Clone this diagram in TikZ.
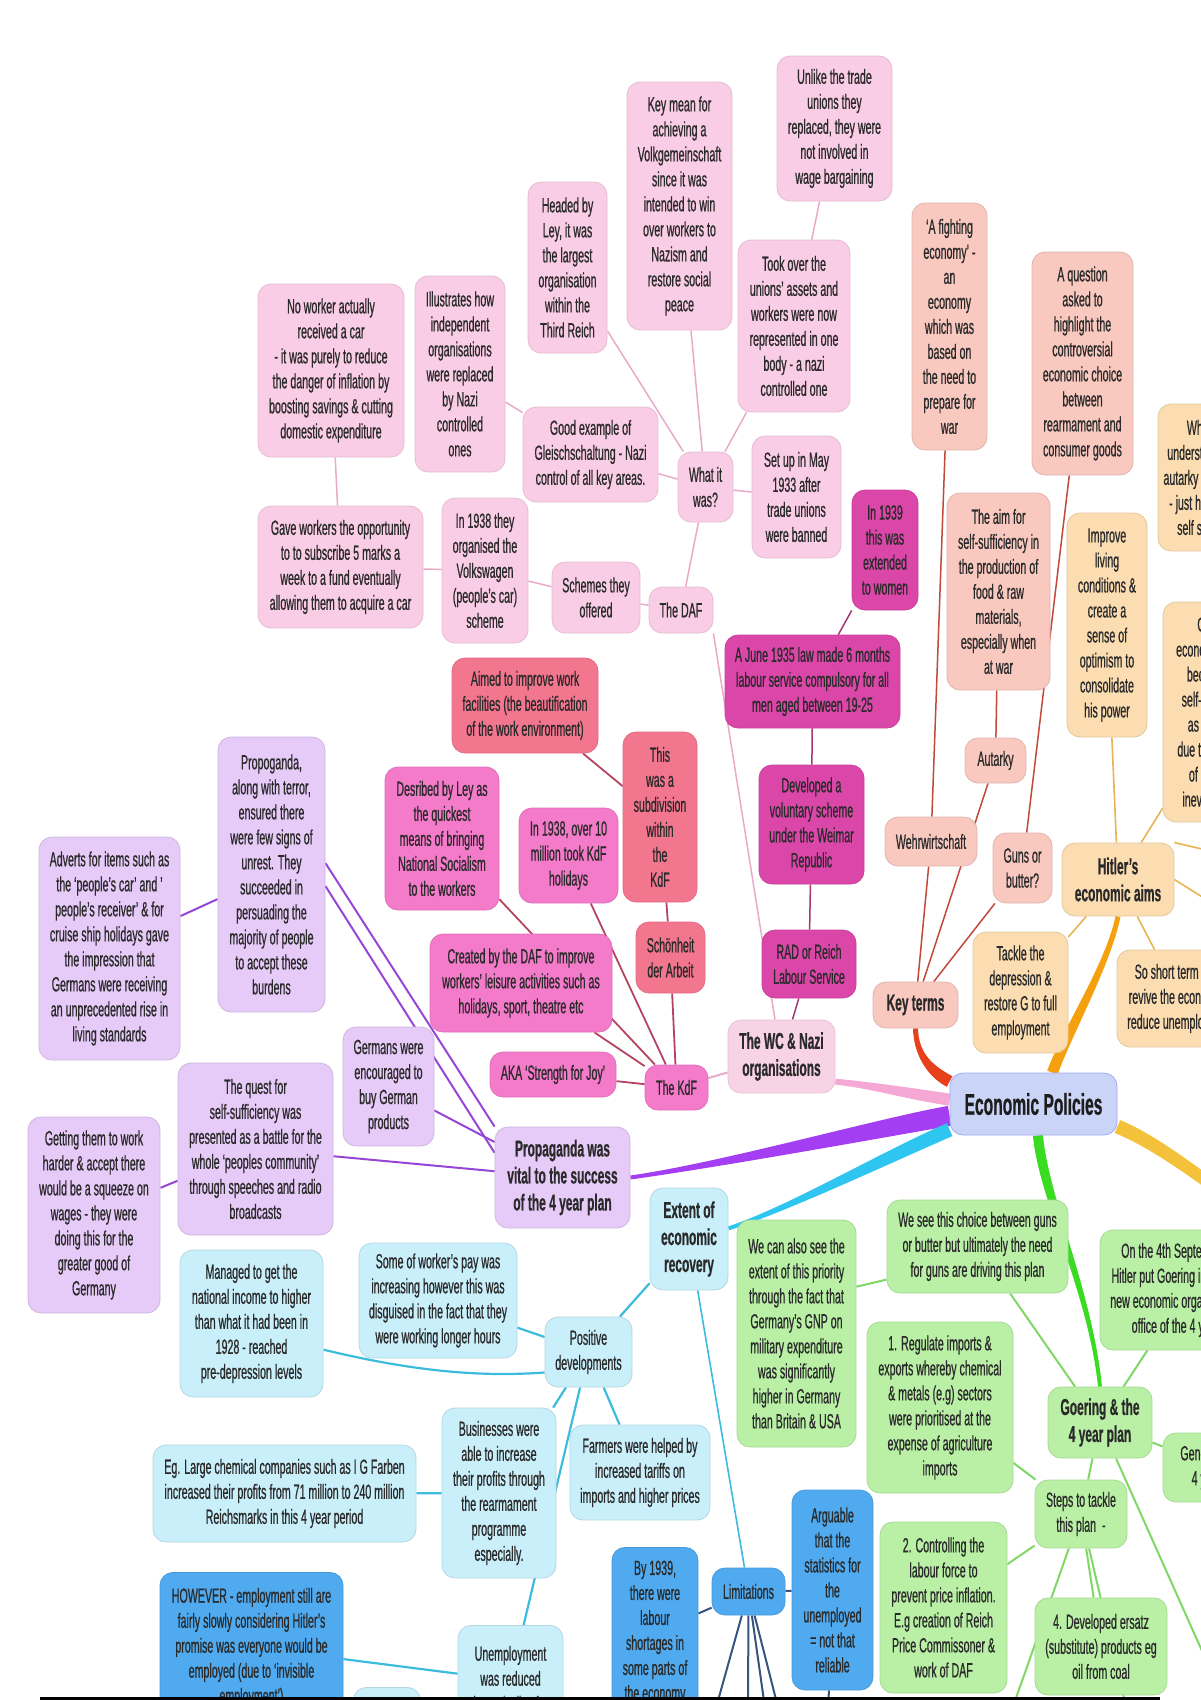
\documentclass[tikz,border=0pt]{standalone}
\usepackage{fontspec}
\setmainfont{Liberation Sans}[FakeStretch=0.52, FakeBold=0.6]
\usetikzlibrary{calc}
\definecolor{ink}{HTML}{2A2A2A}
\definecolor{dafpink}{HTML}{F9CDE5}
\definecolor{radmag}{HTML}{DB47A9}
\definecolor{kdfred}{HTML}{F3768F}
\definecolor{kdfpink}{HTML}{F47ACA}
\definecolor{wcpink}{HTML}{F8D3E6}
\definecolor{epblue}{HTML}{C9D4F6}
\definecolor{keypeach}{HTML}{F9C9C0}
\definecolor{aimorange}{HTML}{FCDDB1}
\definecolor{greenfill}{HTML}{BAF0A6}
\definecolor{purplefill}{HTML}{E6CAF8}
\definecolor{cyanfill}{HTML}{C9EFFA}
\definecolor{bluefill}{HTML}{4FAAF0}
\definecolor{dafline}{HTML}{E9A9C8}
\definecolor{radline}{HTML}{A63571}
\definecolor{kdfline}{HTML}{B4445F}
\definecolor{keyline}{HTML}{C2483A}
\definecolor{aimline}{HTML}{E6B450}
\definecolor{pline}{HTML}{9646D6}
\definecolor{cline}{HTML}{3CBCDD}
\definecolor{bline}{HTML}{35557E}
\definecolor{gline}{HTML}{7FD865}
\definecolor{brRed}{HTML}{E8401C}
\definecolor{brOrange}{HTML}{F5A00E}
\definecolor{brPink}{HTML}{F5A8D4}
\definecolor{brPurple}{HTML}{A43EF2}
\definecolor{brCyan}{HTML}{2EC6F0}
\definecolor{brGreen}{HTML}{3ADC22}
\definecolor{brYellow}{HTML}{F3C23A}
\tikzset{bubble/.style={rounded corners=13pt, align=center, inner sep=3pt, line width=0.8pt,
                        text=ink, font=\fontsize{20.5}{25}\selectfont}}
% tapered main branch: colour, start, control 1, control 2, end, half width at start, half width at end
\newcommand\branch[7]{%
  \path ($#2!#6!90:#3$) coordinate (bl0) ($#2!#6!-90:#3$) coordinate (br0)
        ($#5!#7!-90:#4$) coordinate (bl1) ($#5!#7!90:#4$) coordinate (br1);
  \fill[#1] (bl0) .. controls ($#3+(bl0)-#2$) and ($#4+(bl1)-#5$) .. (bl1)
        -- (br1) .. controls ($#4+(br1)-#5$) and ($#3+(br0)-#2$) .. (br0) -- cycle;}

\begin{document}
\begin{tikzpicture}[x=1pt, y=-1pt,
    dafbox/.style = {bubble, fill=dafpink, draw=dafpink!92!black},
    radbox/.style = {bubble, fill=radmag, draw=radmag!92!black},
    kdfredbox/.style = {bubble, fill=kdfred, draw=kdfred!92!black},
    kdfbox/.style = {bubble, fill=kdfpink, draw=kdfpink!92!black},
    wcbox/.style = {bubble, fill=wcpink, draw=wcpink!92!black},
    keybox/.style = {bubble, fill=keypeach, draw=keypeach!90!black},
    aimbox/.style = {bubble, fill=aimorange, draw=aimorange!90!black},
    greenbox/.style = {bubble, fill=greenfill, draw=greenfill!90!black},
    purplebox/.style = {bubble, fill=purplefill, draw=purplefill!90!black},
    cyanbox/.style = {bubble, fill=cyanfill, draw=cyanfill!90!black},
    bluebox/.style = {bubble, fill=bluefill, draw=bluefill!90!black},
    heading/.style = {font=\bfseries\fontsize{23}{27}\selectfont},
    dafln/.style = {draw=dafline, line width=1.5pt},
    radln/.style = {draw=radline, line width=1.5pt},
    kdfln/.style = {draw=kdfline, line width=1.8pt},
    keyln/.style = {draw=keyline, line width=1.5pt},
    aimln/.style = {draw=aimline, line width=1.6pt},
    pln/.style = {draw=pline, line width=2pt},
    cln/.style = {draw=cline, line width=2.2pt},
    bln/.style = {draw=bline, line width=2pt},
    gln/.style = {draw=gline, line width=2pt}]
    \pgfdeclarelayer{bg}    % connectors go behind the bubbles
    \pgfsetlayers{bg,main}
    \useasboundingbox (0,0) rectangle (1200,1700);
    %the DAF
    \node[dafbox, minimum width=115pt, minimum height=145pt] (unlike) at (834.5,128.5) {Unlike the trade\\unions they\\replaced, they were\\not involved in\\wage bargaining};
    \node[dafbox, minimum width=105pt, minimum height=248pt] (keymean) at (679.5,206) {Key mean for\\achieving a\\Volkgemeinschaft\\since it was\\intended to win\\over workers to\\Nazism and\\restore social\\peace};
    \node[dafbox, minimum width=79pt, minimum height=171pt] (headed) at (567.5,267.5) {Headed by\\Ley, it was\\the largest\\organisation\\within the\\Third Reich};
    \node[dafbox, minimum width=90pt, minimum height=196pt] (illus) at (460,374) {Illustrates how\\independent\\organisations\\were replaced\\by Nazi\\controlled\\ones};
    \node[dafbox, minimum width=146pt, minimum height=173pt] (noworker) at (331,370.5) {No worker actually\\received a car\\- it was purely to reduce\\the danger of inflation by\\boosting savings \& cutting\\domestic expenditure};
    \node[dafbox, minimum width=112pt, minimum height=172pt] (tookover) at (794,326) {Took over the\\unions' assets and\\workers were now\\represented in one\\body - a nazi\\controlled one};
    \node[dafbox, minimum width=135pt, minimum height=95pt] (goodex) at (590.5,454.5) {Good example of\\Gleischschaltung - Nazi\\control of all key areas.};
    \node[dafbox, minimum width=55pt, minimum height=70pt] (whatwas) at (705.5,487) {What it\\was?};
    \node[dafbox, minimum width=89pt, minimum height=122pt] (setup) at (796.5,497) {Set up in May\\1933 after\\trade unions\\were banned};
    \node[dafbox, minimum width=165pt, minimum height=122pt] (gave) at (340.5,567) {Gave workers the opportunity\\to to subscribe 5 marks a\\week to a fund eventually\\allowing them to acquire a car};
    \node[dafbox, minimum width=86pt, minimum height=145pt] (vw) at (485,570.5) {In 1938 they\\organised the\\Volkswagen\\(people's car)\\scheme};
    \node[dafbox, minimum width=88pt, minimum height=71pt] (schemes) at (596,597.5) {Schemes they\\offered};
    \node[dafbox, minimum width=64pt, minimum height=46pt] (daf) at (681,610) {The DAF};
    %the RAD
    \node[radbox, minimum width=66pt, minimum height=120pt] (women) at (885,550) {In 1939\\this was\\extended\\to women};
    \node[radbox, minimum width=175pt, minimum height=93pt] (june) at (812.5,681.5) {A June 1935 law made 6 months\\labour service compulsory for all\\men aged between 19-25};
    \node[radbox, minimum width=105pt, minimum height=119pt] (weimar) at (811.5,824.5) {Developed a\\voluntary scheme\\under the Weimar\\Republic};
    \node[radbox, minimum width=94pt, minimum height=68pt] (rad) at (809,964) {RAD or Reich\\Labour Service};
    %the KdF
    \node[kdfredbox, minimum width=146pt, minimum height=95pt] (aimed) at (525,705.5) {Aimed to improve work\\facilities (the beautification\\of the work environment)};
    \node[kdfredbox, minimum width=74pt, minimum height=170pt] (subdiv) at (660,817) {This\\was a\\subdivision\\within\\the\\KdF};
    \node[kdfbox, minimum width=114pt, minimum height=143pt] (desrib) at (442,838.5) {Desribed by Ley as\\the quickest\\means of bringing\\National Socialism\\to the workers};
    \node[kdfbox, minimum width=99pt, minimum height=95pt] (tenmil) at (568.5,855.5) {In 1938, over 10\\million took KdF\\holidays};
    \node[kdfredbox, minimum width=69pt, minimum height=71pt] (schon) at (670.5,957.5) {Schönheit\\der Arbeit};
    \node[kdfbox, minimum width=182pt, minimum height=98pt] (created) at (521,983) {Created by the DAF to improve\\workers' leisure activities such as\\holidays, sport, theatre etc};
    \node[kdfbox, minimum width=126pt, minimum height=45pt] (aka) at (553,1074.5) {AKA `Strength for Joy'};
    \node[kdfbox, minimum width=63pt, minimum height=45pt] (kdf) at (676.5,1087.5) {The KdF};
    \node[wcbox, heading, minimum width=107pt, minimum height=73pt] (wc) at (781.5,1056.5) {The WC \& Nazi\\organisations};
    %centre
    \node[bubble, fill=epblue, draw=epblue!80!blue, font=\bfseries\fontsize{30}{34}\selectfont, text=ink!70!black,
          minimum width=167pt, minimum height=62pt] (ep) at (1033.5,1104) {Economic Policies};
    %key terms
    \node[keybox, minimum width=75pt, minimum height=247pt] (fighting) at (949.5,326.5) {`A fighting\\economy' -\\an\\economy\\which was\\based on\\the need to\\prepare for\\war};
    \node[keybox, minimum width=101pt, minimum height=223pt] (question) at (1082.5,363.5) {A question\\asked to\\highlight the\\controversial\\economic choice\\between\\rearmament and\\consumer goods};
    \node[keybox, minimum width=103pt, minimum height=197pt] (aim) at (998.5,591.5) {The aim for\\self-sufficiency in\\the production of\\food \& raw\\materials,\\especially when\\at war};
    \node[keybox, minimum width=61pt, minimum height=45pt] (autarky) at (995.5,760.5) {Autarky};
    \node[keybox, minimum width=92pt, minimum height=49pt] (wehr) at (931,841.5) {Wehrwirtschaft};
    \node[keybox, minimum width=59pt, minimum height=70pt] (guns) at (1022.5,868) {Guns or\\butter?};
    \node[keybox, heading, minimum width=85pt, minimum height=46pt] (keyterms) at (915.5,1005) {Key terms};
    %Hitler's aims
    \node[aimbox, minimum width=80pt, minimum height=224pt] (improve) at (1107,625) {Improve\\living\\conditions \&\\create a\\sense of\\optimism to\\consolidate\\his power};
    \node[aimbox, heading, minimum width=112pt, minimum height=73pt] (aims) at (1118,879.5) {Hitler's\\economic aims};
    \node[aimbox, minimum width=95pt, minimum height=121pt] (tackle) at (1020.5,992.5) {Tackle the\\depression \&\\restore G to full\\employment};
    \node[aimbox, minimum width=126pt, minimum height=97pt] (shortterm) at (1180,998.5) {So short term aim -\\revive the economy \&\\reduce unemployment};
    \node[aimbox, minimum width=130pt, minimum height=147pt] (wbox) at (1223,477.5) {What he meant\\understood by the word\\autarky was not meant to\\- just how far Germany\\self sufficient it was};
    \node[aimbox, minimum width=120pt, minimum height=220pt] (gbox) at (1223,712) {Germany's\\economy needed to\\become largely\\self-sufficient and\\as possible, so\\due to the prospect\\of another war\\inevitable conflict};
    %Goering
    \node[greenbox, minimum width=181pt, minimum height=93pt] (wesee) at (977.5,1246.5) {We see this choice between guns\\or butter but ultimately the need\\for guns are driving this plan};
    \node[greenbox, minimum width=119pt, minimum height=227pt] (wecan) at (796.5,1333.5) {We can also see the\\extent of this priority\\through the fact that\\Germany's GNP on\\military expenditure\\was significantly\\higher in Germany\\than Britain \& USA};
    \node[greenbox, minimum width=174pt, minimum height=120pt] (on4th) at (1187,1290) {On the 4th September 1936\\Hitler put Goering in charge of a\\new economic organisation - the\\office of the 4 year plan};
    \node[greenbox, heading, minimum width=104pt, minimum height=71pt] (goering) at (1100,1422.5) {Goering \& the\\4 year plan};
    \node[greenbox, minimum width=110pt, minimum height=69pt] (gene) at (1218,1467.5) {General aims of\\4 year plan};
    \node[greenbox, minimum width=146pt, minimum height=171pt] (regulate) at (940,1407.5) {1. Regulate imports \&\\exports whereby chemical\\\& metals (e.g) sectors\\were prioritised at the\\expense of agriculture\\imports};
    \node[greenbox, minimum width=92pt, minimum height=68pt] (steps) at (1081,1514) {Steps to tackle\\this plan \ -};
    \node[greenbox, minimum width=127pt, minimum height=171pt] (control) at (943.5,1607.5) {2. Controlling the\\labour force to\\prevent price inflation.\\E.g creation of Reich\\Price Commissoner \&\\work of DAF};
    \node[greenbox, minimum width=132pt, minimum height=97pt] (ersatz) at (1101,1646.5) {4. Developed ersatz\\(substitute) products eg\\oil from coal};
    %propaganda
    \node[purplebox, minimum width=107pt, minimum height=275pt] (terror) at (271.5,874.5) {Propoganda,\\along with terror,\\ensured there\\were few signs of\\unrest. They\\succeeded in\\persuading the\\majority of people\\to accept these\\burdens};
    \node[purplebox, minimum width=141pt, minimum height=223pt] (adverts) at (109.5,948.5) {Adverts for items such as\\the `people's car' and '\\people's receiver' \& for\\cruise ship holidays gave\\the impression that\\Germans were receiving\\an unprecedented rise in\\living standards};
    \node[purplebox, minimum width=91pt, minimum height=119pt] (buygerman) at (388.5,1086.5) {Germans were\\encouraged to\\buy German\\products};
    \node[purplebox, minimum width=155pt, minimum height=172pt] (quest) at (255.5,1149) {The quest for\\self-sufficiency was\\presented as a battle for the\\whole `peoples community'\\through speeches and radio\\broadcasts};
    \node[purplebox, minimum width=132pt, minimum height=196pt] (harder) at (94,1215) {Getting them to work\\harder \& accept there\\would be a squeeze on\\wages - they were\\doing this for the\\greater good of\\Germany};
    \node[purplebox, heading, minimum width=135pt, minimum height=101pt] (propvital) at (562.5,1177.5) {Propaganda was\\vital to the success\\of the 4 year plan};
    %recovery
    \node[cyanbox, heading, minimum width=78pt, minimum height=102pt] (extent) at (689,1239) {Extent of\\economic\\recovery};
    \node[cyanbox, minimum width=143pt, minimum height=147pt] (income) at (251.5,1323.5) {Managed to get the\\national income to higher\\than what it had been in\\1928 - reached\\pre-depression levels};
    \node[cyanbox, minimum width=158pt, minimum height=115pt] (pay) at (438,1300.5) {Some of worker's pay was\\increasing however this was\\disguised in the fact that they\\were working longer hours};
    \node[cyanbox, minimum width=87pt, minimum height=70pt] (positive) at (588.5,1352) {Positive\\developments};
    \node[cyanbox, minimum width=263pt, minimum height=97pt] (farben) at (284.5,1493.5) {Eg. Large chemical companies such as I G Farben\\increased their profits from 71 million to 240 million\\Reichsmarks in this 4 year period};
    \node[cyanbox, minimum width=114pt, minimum height=170pt] (business) at (499,1493) {Businesses were\\able to increase\\their profits through\\the rearmament\\programme\\especially.};
    \node[cyanbox, minimum width=140pt, minimum height=95pt] (farmers) at (640,1472.5) {Farmers were helped by\\increased tariffs on\\imports and higher prices};
    \node[cyanbox, anchor=north, minimum width=105pt, minimum height=110pt] (unemp) at (510.5,1625) {Unemployment\\was reduced\\dramatically after};
    \node[cyanbox, anchor=north west, minimum width=67pt, minimum height=40pt] (extra) at (353,1687) {};
    %limitations
    \node[bluebox, minimum width=73pt, minimum height=47pt] (limits) at (748.5,1591.5) {Limitations};
    \node[bluebox, anchor=north, minimum width=86pt, minimum height=170pt] (shortage) at (655,1547) {By 1939,\\there were\\labour\\shortages in\\some parts of\\the economy};
    \node[bluebox, minimum width=81pt, minimum height=200pt] (arguable) at (832.5,1590) {Arguable\\that the\\statistics for\\the\\unemployed\\= not that\\reliable};
    \node[bluebox, anchor=north, minimum width=183pt, minimum height=150pt] (however) at (251.5,1572) {HOWEVER - employment still are\\fairly slowly considering Hitler's\\promise was everyone would be\\employed (due to `invisible\\employment')};
    %loose ends running off the page
    \coordinate (offA) at (1215,852);
    \coordinate (offB) at (1215,905);
    \coordinate (offY) at (1232,1200);
    \coordinate (offG) at (1215,1680);
    \coordinate (offS) at (1010,1715);
    \coordinate (offT) at (1128,1715);
    \coordinate (offL1) at (714,1715);
    \coordinate (offL2) at (748,1715);
    \coordinate (offL3) at (766,1715);
    \coordinate (offL4) at (780,1715);
    \coordinate (offR) at (828,1715);
    \fill[black] (40,1697) rectangle (1160,1710);
    \begin{pgfonlayer}{bg}
        %main branches
        \branch{brRed}{(ep.165)}{(928,1070)}{(916,1052)}{(keyterms.south)}{6pt}{2.5pt}
        \branch{brOrange}{(ep.59)}{(1068,1030)}{(1108,965)}{(aims.south)}{5.5pt}{2.5pt}
        \branch{brPink}{(ep.177)}{(905,1093)}{(870,1085)}{(wc.-25)}{6pt}{3pt}
        \branch{brPurple}{(ep.188)}{(880,1128)}{(720,1165)}{(propvital.east)}{10pt}{2pt}
        \branch{brCyan}{(ep.197)}{(880,1160)}{(790,1208)}{(extent.15)}{7pt}{2pt}
        \branch{brGreen}{(ep.-82)}{(1044,1200)}{(1090,1290)}{(goering.north)}{5pt}{2pt}
        \branch{brYellow}{(ep.-15)}{(1150,1140)}{(1185,1165)}{(offY)}{7pt}{6pt}
        %DAF
        \draw[dafln] (daf) -- (whatwas);
        \draw[dafln] (whatwas) -- (headed);
        \draw[dafln] (whatwas) -- (keymean);
        \draw[dafln] (whatwas) -- (tookover);
        \draw[dafln] (whatwas) -- (goodex);
        \draw[dafln] (whatwas) -- (setup);
        \draw[dafln] (tookover) -- (unlike);
        \draw[dafln] (goodex) -- (illus);
        \draw[dafln] (noworker) -- (gave);
        \draw[dafln] (gave) -- (vw);
        \draw[dafln] (vw) -- (schemes);
        \draw[dafln] (schemes) -- (daf);
        \draw[dafln] (daf.south east) -- (wc.100);
        %RAD
        \draw[radln] (women) -- (june);
        \draw[radln] (june) -- (weimar);
        \draw[radln] (weimar) -- (rad);
        \draw[radln] (rad) -- (wc);
        %KdF
        \draw[kdfln] (aimed) -- (subdiv);
        \draw[kdfln] (subdiv) -- (schon);
        \draw[kdfln] (schon) -- (kdf);
        \draw[kdfln] (desrib) -- (kdf);
        \draw[kdfln] (tenmil) -- (kdf);
        \draw[kdfln] (created) -- (kdf);
        \draw[kdfln] (aka) -- (kdf);
        \draw[dafln, line width=2pt] (kdf) -- (wc);
        %key terms
        \draw[keyln] (fighting) -- (wehr);
        \draw[keyln] (wehr) -- (keyterms);
        \draw[keyln] (aim) -- (autarky);
        \draw[keyln] (autarky) -- (keyterms);
        \draw[keyln] (question) -- (guns);
        \draw[keyln] (guns) -- (keyterms);
        %aims
        \draw[aimln] (improve) -- (aims);
        \draw[aimln] (gbox) -- (aims);
        \draw[aimln] (aims) -- (tackle);
        \draw[aimln] (aims) -- (shortterm);
        \draw[aimln] (aims.north east) -- (offA);
        \draw[aimln] (aims.east) -- (offB);
        %propaganda
        \draw[pln] (adverts) -- (terror);
        \draw[pln] (terror.12) -- (propvital.north west);
        \draw[pln] (terror.-12) -- (propvital.160);
        \draw[pln] (buygerman) -- (propvital);
        \draw[pln] (quest) -- (propvital);
        \draw[pln] (harder) -- (quest);
        %recovery
        \draw[cln] (extent) -- (positive);
        \draw[cln, line width=1.6pt] (extent) -- (limits);
        \draw[cln] (positive) -- (pay);
        \draw[cln] (positive.205) .. controls (470,1378) and (400,1368) .. (income.-20);
        \draw[cln] (positive) -- (business);
        \draw[cln] (positive) -- (farmers);
        \draw[cln] (positive) -- (unemp);
        \draw[cln] (business) -- (farben);
        \draw[cln] (however) -- (unemp);
        %limitations
        \draw[bln] (limits) -- (shortage);
        \draw[bln] (limits) -- (arguable);
        \foreach \off in {offL1, offL2, offL3, offL4}
            \draw[bln] (limits) -- (\off);
        \draw[bln] (arguable) -- (offR);
        %Goering
        \draw[gln] (wecan.38) -- (wesee.200);
        \draw[gln] (wesee) -- (goering);
        \draw[gln] (on4th) -- (goering);
        \draw[gln] (goering) -- (gene);
        \draw[gln] (goering) -- (steps);
        \draw[gln] (goering) -- (offG);
        \draw[gln] (steps) -- (regulate);
        \draw[gln] (steps) -- (control);
        \draw[gln] (steps) -- (ersatz);
        \draw[gln] (steps) -- (offS);
        \draw[gln] (steps) -- (offT);
    \end{pgfonlayer}
\end{tikzpicture}
\end{document}
